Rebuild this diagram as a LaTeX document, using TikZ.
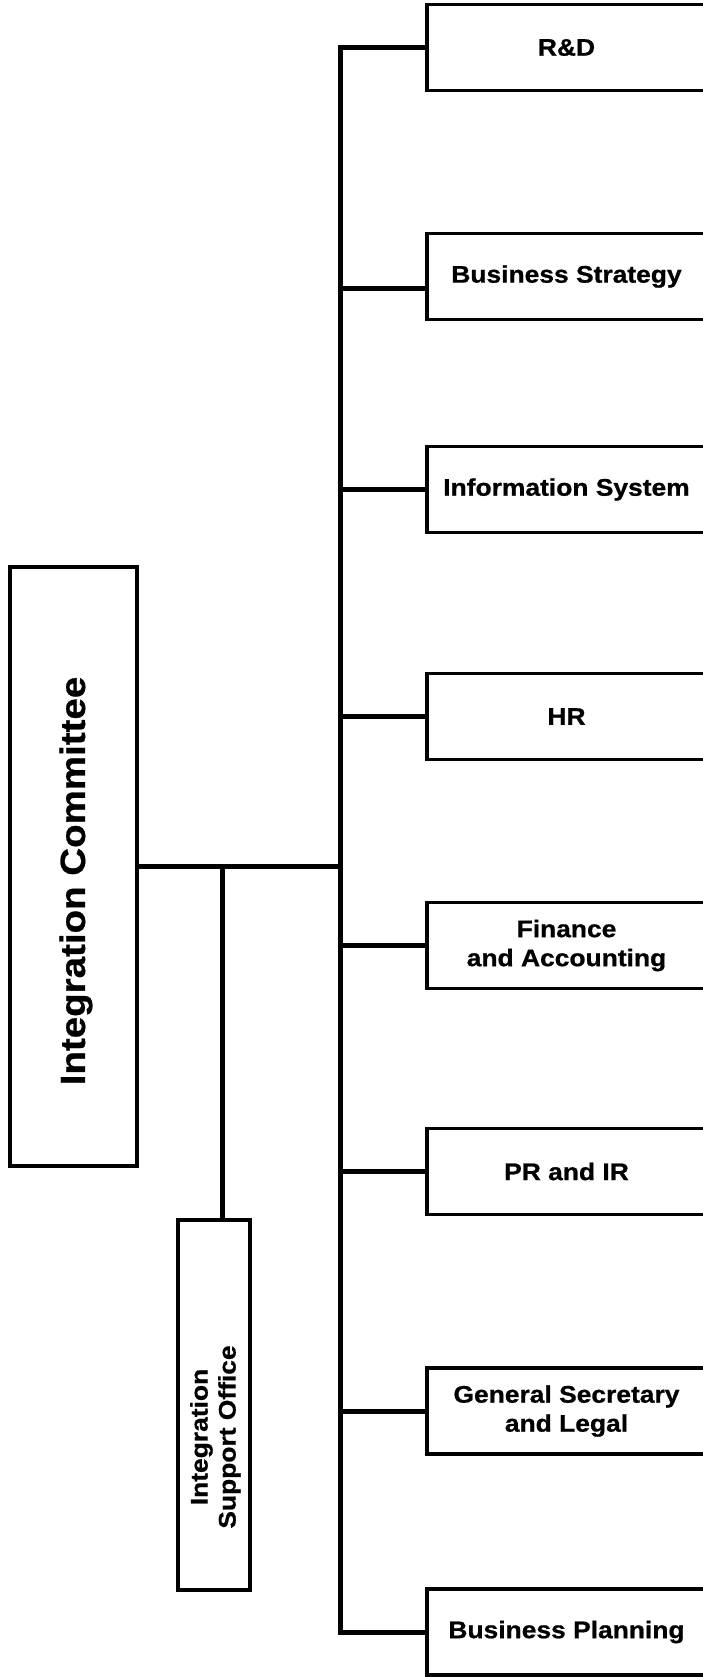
\documentclass[tikz,border=0pt]{standalone}
\usepackage{fontspec}
\setmainfont{Liberation Sans}[FakeStretch=1.1,FakeBold=0.8]
\usepackage{graphicx}
\begin{document}
\begin{tikzpicture}[x=1pt,y=-1pt,
  dept/.style={draw, line width=3.5pt, minimum width=279pt, minimum height=86pt,
    inner sep=0pt, align=center, font=\fontsize{24}{29}\selectfont\bfseries},
  frame/.style={draw, line width=3.5pt, inner sep=0pt},
  conn/.style={line width=5pt}]
\useasboundingbox (0,0) rectangle (703,1677);
\clip (0,0) rectangle (703,1677);
\fill[white] (0,0) rectangle (703,1677);

% departments
\node[dept] (rd) at (566.5,47.5) {R\&D};
\node[dept] (bs) at (566.5,276.5) {Business Strategy};
\node[dept] (is) at (566.5,489.5) {Information System};
\node[dept] (hr) at (566.5,716.5) {HR};
\node[dept] (fa) at (566.5,945.5) {Finance\\and Accounting};
\node[dept] (pr) at (566.5,1171.5) {PR and IR};
\node[dept] (gs) at (566.5,1411) {General Secretary\\and Legal};
\node[dept] (bp) at (566.5,1632) {Business Planning};

% committee
\node[frame, minimum width=127pt, minimum height=599pt] (ic) at (73.5,866.5) {};
\node (ictext) at (76,881) {\rotatebox{90}{\fontsize{35}{42}\selectfont\bfseries Integration Committee}};

% support office
\node[frame, minimum width=72pt, minimum height=370pt] (iso) at (214,1405) {};
\node (isotext) at (216,1437) {\rotatebox{90}{\fontsize{24}{28}\selectfont\bfseries
  \renewcommand{\arraystretch}{1}\begin{tabular}{@{}c@{}}Integration\\Support Office\end{tabular}}};

% connectors
\coordinate (bus) at (340,0);
\coordinate (drop) at (222,0);
\draw[conn] (rd.west) -- (rd.west -| bus) |- (bp.west);
\draw[conn] ([yshift=-12pt]bs.west) -- ([yshift=-12pt]bs.west -| bus);
\foreach \n in {is,hr,fa,pr,gs} {
  \draw[conn] (\n.west) -- (\n.west -| bus);
}
\draw[conn] (ic.east) -- (ic.east -| bus);
\draw[conn] (ic.east -| drop) -- (iso.north -| drop);
\end{tikzpicture}
\end{document}
